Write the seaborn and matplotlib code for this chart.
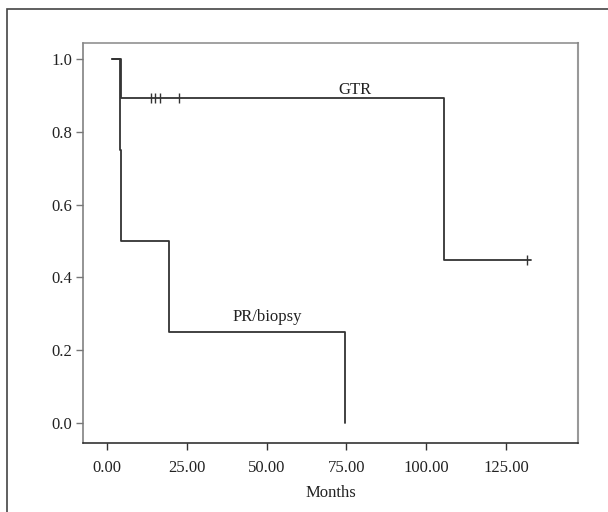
import matplotlib
matplotlib.use("Agg")
import matplotlib.pyplot as plt
import seaborn as sns
import pandas as pd
from matplotlib.patches import Rectangle
from matplotlib.ticker import StrMethodFormatter

# Kaplan-Meier step points
gtr_months = [1.7, 4.3, 105.7, 133.0]
gtr_surv = [1.0, 0.894, 0.447, 0.447]
gtr_cens_months = [13.7, 15.0, 16.6, 22.6, 131.5]
gtr_cens_surv = [0.894, 0.894, 0.894, 0.894, 0.447]

pr_months = [1.7, 4.0, 4.3, 19.4, 74.6]
pr_surv = [1.0, 0.75, 0.5, 0.25, 0.0]

x_ticks = [0, 25, 50, 75, 100, 125]
y_ticks = [0.0, 0.2, 0.4, 0.6, 0.8, 1.0]

sns.set_style("white")
plt.rcParams["font.family"] = ["Liberation Serif", "DejaVu Serif"]

fig = plt.figure(figsize=(6.08, 5.12), dpi=100)
ax = fig.add_axes([0.1365, 0.1348, 0.8142, 0.7812])

line_col = "#333333"
gtr = pd.DataFrame({"Months": gtr_months, "Surv": gtr_surv})
pr = pd.DataFrame({"Months": pr_months, "Surv": pr_surv})
sns.lineplot(data=gtr, x="Months", y="Surv", drawstyle="steps-post",
             color=line_col, lw=1.3, estimator=None, sort=False, ax=ax)
sns.lineplot(data=pr, x="Months", y="Surv", drawstyle="steps-post",
             color=line_col, lw=1.3, estimator=None, sort=False, ax=ax)
sns.scatterplot(x=gtr_cens_months, y=gtr_cens_surv, marker="|", s=50,
                color=line_col, linewidth=1.0, ax=ax)

ax.text(77.7, 0.915, "GTR", fontsize=12, ha="center", va="center", color="#222222")
ax.text(50.1, 0.29, "PR/biopsy", fontsize=12, ha="center", va="center", color="#222222")

ax.set_xlim(-7.5, 147.6)
ax.set_ylim(-0.055, 1.044)
ax.set_xticks(x_ticks)
ax.set_yticks(y_ticks)
ax.xaxis.set_major_formatter(StrMethodFormatter("{x:.2f}"))
ax.yaxis.set_major_formatter(StrMethodFormatter("{x:.1f}"))
ax.set_xlabel("Months", fontsize=12, color="#222222", labelpad=7)
ax.set_ylabel("")
ax.tick_params(axis="both", labelsize=12, labelcolor="#222222", length=5, width=1,
               direction="out", left=True, bottom=True)
ax.tick_params(axis="y", color="#777777", pad=3)
ax.tick_params(axis="x", color="#333333", pad=7)

ax.spines["left"].set_color("#777777")
ax.spines["bottom"].set_color("#222222")
ax.spines["top"].set_color("#888888")
ax.spines["right"].set_color("#999999")
for side in ["left", "bottom", "top", "right"]:
    ax.spines[side].set_linewidth(1.1)
ax.spines["right"].set_linewidth(1.5)

# outer frame, open to the right and bottom
fig.add_artist(Rectangle((7 / 608, -0.1), 1.2, 1.1 - 9 / 512, transform=fig.transFigure,
                         fill=False, edgecolor="#444444", lw=1.2))

fig.savefig("out.png", dpi=100)
